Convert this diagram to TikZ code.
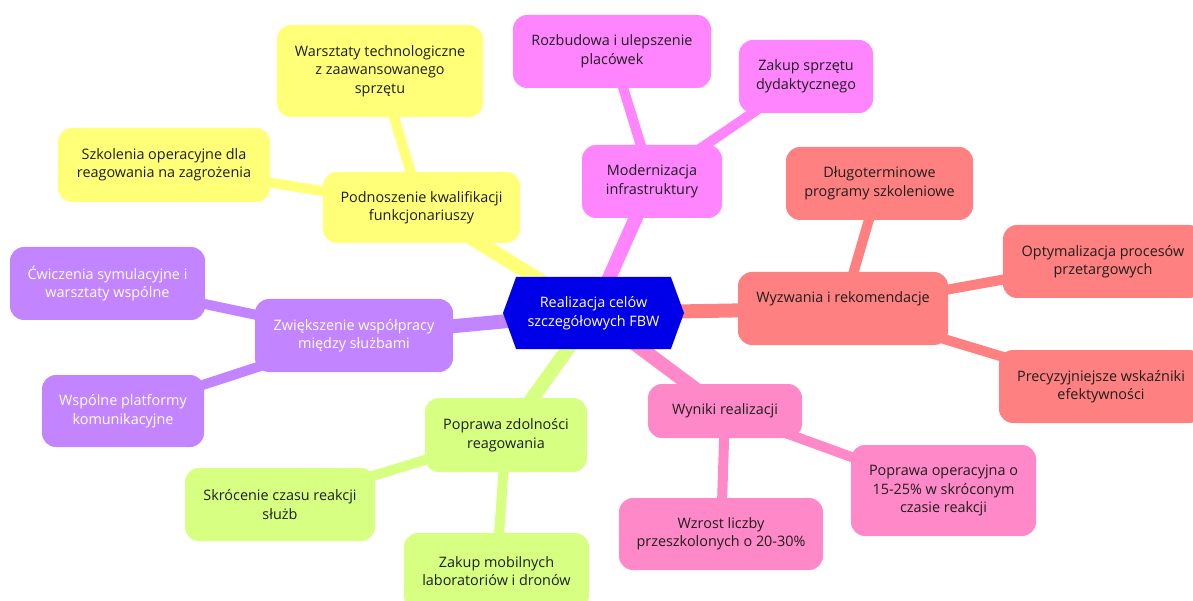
\documentclass[tikz,border=0pt]{standalone}
\usepackage{fontspec}
\setmainfont{Open Sans}
\usetikzlibrary{backgrounds,shapes.symbols}

\definecolor{rootblue}{HTML}{0000E8}
\definecolor{cyel}{HTML}{FFFF78}
\definecolor{cmag}{HTML}{FF85FF}
\definecolor{csal}{HTML}{FF8080}
\definecolor{cpnk}{HTML}{FF88C8}
\definecolor{cgrn}{HTML}{D7FF82}
\definecolor{cpur}{HTML}{C285FF}
\definecolor{ink}{HTML}{1E1E1E}

\tikzset{
  mmfont/.style={font=\fontsize{14.4}{18.5}\selectfont},
  mmbox/.style={rectangle, rounded corners=14pt, inner sep=0pt, align=center,
    mmfont, text=ink},
  sz/.style 2 args={minimum width=#1, minimum height=#2},
  rootedge/.style={line width=14pt},
  leafedge/.style={line width=10pt},
}

\begin{document}
\begin{tikzpicture}[x=1pt, y=-1pt]
\useasboundingbox (0,0) rectangle (1193,601);

% central topic
\node (root) [shape=signal, signal to=east and west, signal pointer angle=140,
  fill=rootblue, text=white, inner sep=0pt, sz={181pt}{72pt}, align=center,
  mmfont] at (593.5,313)
  {Realizacja celów\\szczegółowych FBW};

% yellow branch
\node (yel1) [mmbox, fill=cyel, sz={197pt}{71pt}] at (421.5,207.5)
  {Podnoszenie kwalifikacji\\funkcjonariuszy};
\node (yel2) [mmbox, fill=cyel, sz={206pt}{92pt}] at (380,71)
  {Warsztaty technologiczne\\z zaawansowanego\\sprzętu};
\node (yel3) [mmbox, fill=cyel, sz={212pt}{74pt}] at (164,165)
  {Szkolenia operacyjne dla\\reagowania na zagrożenia};

% magenta branch
\node (mag1) [mmbox, fill=cmag, sz={140pt}{73pt}] at (652,181.5)
  {Modernizacja\\infrastruktury};
\node (mag2) [mmbox, fill=cmag, sz={198pt}{73pt}] at (612,51.5)
  {Rozbudowa i ulepszenie\\placówek};
\node (mag3) [mmbox, fill=cmag, sz={134pt}{73pt}] at (806,76.5)
  {Zakup sprzętu\\dydaktycznego};

% salmon branch (single-line label sits in the upper part of its box)
\node (sal1) [mmbox, fill=csal, sz={210pt}{73pt}] at (843,308.5)
  {Wyzwania i rekomendacje\\[-2pt]\strut};
\node (sal2) [mmbox, fill=csal, sz={187pt}{73pt}] at (879.5,183.5)
  {Długoterminowe\\programy szkoleniowe};
\node (sal3) [mmbox, fill=csal, sz={200pt}{73pt}] at (1103,261.5)
  {Optymalizacja procesów\\przetargowych};
\node (sal4) [mmbox, fill=csal, sz={204pt}{73pt}] at (1101,386.5)
  {Precyzyjniejsze wskaźniki\\efektywności};

% pink branch
\node (pnk1) [mmbox, fill=cpnk, sz={154pt}{54pt}] at (725,411)
  {Wyniki realizacji};
\node (pnk2) [mmbox, fill=cpnk, sz={204pt}{72pt}] at (721,534)
  {Wzrost liczby\\przeszkolonych o 20-30\%};
\node (pnk3) [mmbox, fill=cpnk, sz={185pt}{91pt}] at (943.5,490.5)
  {Poprawa operacyjna o\\15-25\% w skróconym\\czasie reakcji};

% green branch
\node (grn1) [mmbox, fill=cgrn, sz={162pt}{74pt}] at (506,435)
  {Poprawa zdolności\\reagowania};
\node (grn2) [mmbox, fill=cgrn, sz={190pt}{73pt}] at (280,504.5)
  {Skrócenie czasu reakcji\\służb};
\node (grn3) [mmbox, fill=cgrn, sz={185pt}{76pt}] at (496.5,571)
  {Zakup mobilnych\\laboratoriów i dronów};

% purple branch
\node (pur1) [mmbox, fill=cpur, text=white, sz={198pt}{73pt}] at (354,335.5)
  {Zwiększenie współpracy\\między służbami};
\node (pur2) [mmbox, fill=cpur, text=white, sz={195pt}{73pt}] at (107.5,283.5)
  {Ćwiczenia symulacyjne i\\warsztaty wspólne};
\node (pur3) [mmbox, fill=cpur, text=white, sz={162pt}{72pt}] at (123,411)
  {Wspólne platformy\\komunikacyjne};

% connectors run underneath the boxes
\begin{scope}[on background layer]
  \fill[white] (0,0) rectangle (1193,601);
  \draw[rootedge, cyel] (root.center) -- (yel1.center);
  \draw[rootedge, cmag] (root.center) -- (mag1.center);
  \draw[rootedge, csal] (root.center) -- (sal1.center);
  \draw[rootedge, cpnk] (root.center) -- (pnk1.center);
  \draw[rootedge, cgrn] (root.center) -- (grn1.center);
  \draw[rootedge, cpur] (root.center) -- (pur1.center);
  \draw[leafedge, cyel] (yel1.center) -- (yel2.center);
  \draw[leafedge, cyel] (yel1.center) -- (yel3.center);
  \draw[leafedge, cmag] (mag1.center) -- (mag2.center);
  \draw[leafedge, cmag] (mag1.center) -- (mag3.center);
  \draw[leafedge, csal] (sal1.center) -- (sal2.center);
  \draw[leafedge, csal] (sal1.center) -- (sal3.center);
  \draw[leafedge, csal] (sal1.center) -- (sal4.center);
  \draw[leafedge, cpnk] (pnk1.center) -- (pnk2.center);
  \draw[leafedge, cpnk] (pnk1.center) -- (pnk3.center);
  \draw[leafedge, cgrn] (grn1.center) -- (grn2.center);
  \draw[leafedge, cgrn] (grn1.center) -- (grn3.center);
  \draw[leafedge, cpur] (pur1.center) -- (pur2.center);
  \draw[leafedge, cpur] (pur1.center) -- (pur3.center);
\end{scope}
\end{tikzpicture}
\end{document}
